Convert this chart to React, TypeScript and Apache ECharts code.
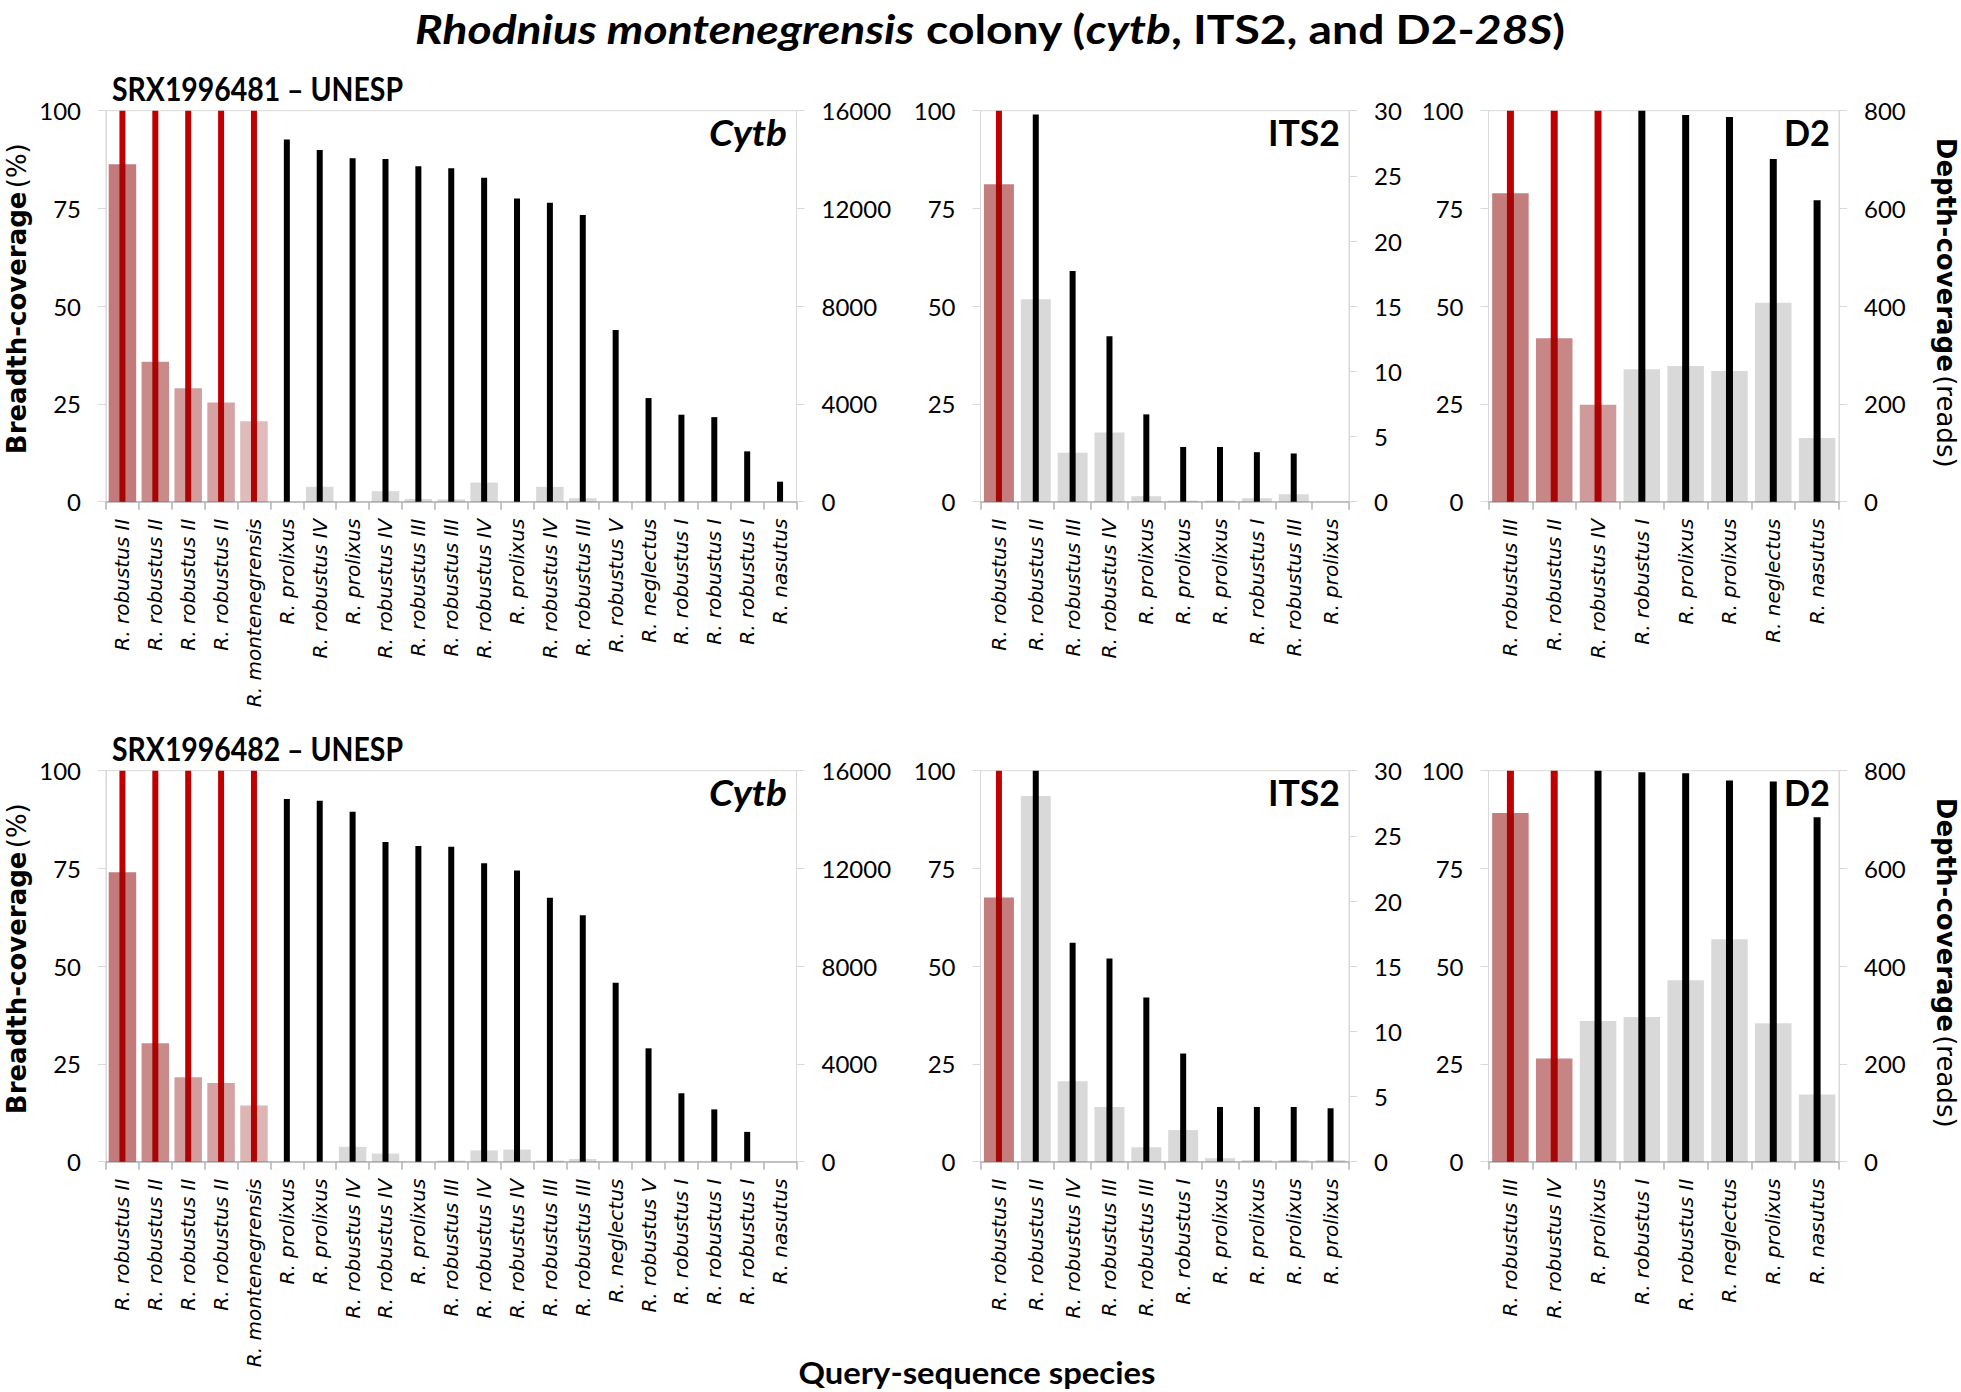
import React, { useEffect, useRef } from "react";
import * as echarts from "echarts";

// ---------------- data ----------------
// Top row: SRX1996481 – UNESP
const catsTopCytb = [
  "R. robustus II", "R. robustus II", "R. robustus II", "R. robustus II", "R. montenegrensis",
  "R. prolixus", "R. robustus IV", "R. prolixus", "R. robustus IV", "R. robustus III",
  "R. robustus III", "R. robustus IV", "R. prolixus", "R. robustus IV", "R. robustus III",
  "R. robustus V", "R. neglectus", "R. robustus I", "R. robustus I", "R. robustus I", "R. nasutus",
];
const breadthTopCytb = [86.3, 35.8, 29.0, 25.4, 20.6, 0, 3.8, 0, 2.7, 0.7, 0.6, 4.9, 0, 3.8, 0.9, 0, 0, 0, 0, 0, 0];
const depthTopCytb = [21000, 20000, 19500, 19000, 18000, 14820, 14390, 14050, 14020, 13730, 13640, 13260, 12410, 12230, 11730, 7030, 4240, 3560, 3460, 2060, 820];

const catsTopITS2 = [
  "R. robustus II", "R. robustus II", "R. robustus III", "R. robustus IV", "R. prolixus",
  "R. prolixus", "R. prolixus", "R. robustus I", "R. robustus III", "R. prolixus",
];
const breadthTopITS2 = [81.2, 51.8, 12.5, 17.7, 1.4, 0.3, 0.3, 0.9, 1.9, 0];
const depthTopITS2 = [40, 29.7, 17.7, 12.7, 6.7, 4.2, 4.2, 3.8, 3.7, 0];

const catsTopD2 = [
  "R. robustus III", "R. robustus II", "R. robustus IV", "R. robustus I",
  "R. prolixus", "R. prolixus", "R. neglectus", "R. nasutus",
];
const breadthTopD2 = [78.9, 41.8, 24.8, 33.9, 34.7, 33.4, 50.9, 16.3];
const depthTopD2 = [1200, 1100, 1000, 800, 791, 787, 701, 617];

// Bottom row: SRX1996482 – UNESP
const catsBotCytb = [
  "R. robustus II", "R. robustus II", "R. robustus II", "R. robustus II", "R. montenegrensis",
  "R. prolixus", "R. prolixus", "R. robustus IV", "R. robustus IV", "R. prolixus",
  "R. robustus III", "R. robustus IV", "R. robustus IV", "R. robustus III", "R. robustus III",
  "R. neglectus", "R. robustus V", "R. robustus I", "R. robustus I", "R. robustus I", "R. nasutus",
];
const breadthBotCytb = [74.0, 30.3, 21.6, 20.1, 14.4, 0, 0, 3.8, 2.1, 0, 0.3, 2.9, 3.1, 0.3, 0.7, 0, 0, 0, 0, 0, 0];
const depthBotCytb = [21000, 20000, 19500, 19000, 18000, 14840, 14770, 14320, 13080, 12920, 12890, 12210, 11920, 10800, 10080, 7320, 4640, 2800, 2140, 1220, 0];

const catsBotITS2 = [
  "R. robustus II", "R. robustus II", "R. robustus IV", "R. robustus III", "R. robustus III",
  "R. robustus I", "R. prolixus", "R. prolixus", "R. prolixus", "R. prolixus",
];
const breadthBotITS2 = [67.6, 93.5, 20.6, 14.0, 3.7, 8.1, 0.9, 0.4, 0.4, 0.4];
const depthBotITS2 = [40, 30, 16.8, 15.6, 12.6, 8.3, 4.2, 4.2, 4.2, 4.1];

const catsBotD2 = [
  "R. robustus III", "R. robustus IV", "R. prolixus", "R. robustus I",
  "R. robustus II", "R. neglectus", "R. prolixus", "R. nasutus",
];
const breadthBotD2 = [89.2, 26.4, 36.0, 37.0, 46.4, 56.9, 35.4, 17.2];
const depthBotD2 = [1200, 1100, 800, 797, 795, 780, 778, 705];

// number of leading (query-matching) categories, drawn in red
const highlightCounts = [5, 1, 3, 5, 1, 2];
const depthMaxes = [16000, 30, 800, 16000, 30, 800];
const depthSteps = [4000, 5, 200, 4000, 5, 200];
const geneLabels = ["Cytb", "ITS2", "D2", "Cytb", "ITS2", "D2"];
const runLabels = ["SRX1996481 – UNESP", "SRX1996482 – UNESP"];

const PANELS = [
  { cats: catsTopCytb, breadth: breadthTopCytb, depth: depthTopCytb },
  { cats: catsTopITS2, breadth: breadthTopITS2, depth: depthTopITS2 },
  { cats: catsTopD2, breadth: breadthTopD2, depth: depthTopD2 },
  { cats: catsBotCytb, breadth: breadthBotCytb, depth: depthBotCytb },
  { cats: catsBotITS2, breadth: breadthBotITS2, depth: depthBotITS2 },
  { cats: catsBotD2, breadth: breadthBotD2, depth: depthBotD2 },
];

// ---------------- layout / style ----------------
const W = 1961;
const H = 1392;
const COLS = [
  { left: 106, width: 690.5, wide: 27.5, thin: 6, labelRight: 787, labelW: 78 },
  { left: 980.5, width: 368.5, wide: 30, thin: 6, labelRight: 1340, labelW: 72 },
  { left: 1488.5, width: 350.5, wide: 36.5, thin: 7, labelRight: 1830, labelW: 46 },
];
const ROWS = [110.7, 770.7];
const PLOT_H = 391;
const PINK_ALPHA = [
  [0.54, 0.48, 0.4, 0.375, 0.28],
  [0.53],
  [0.53, 0.49, 0.41],
  [0.54, 0.48, 0.4, 0.375, 0.3],
  [0.53],
  [0.53, 0.5],
];
const CAL = "Lato";
const VER = "DejaVu Sans";

function fitScale(parts: { t: string; font: string }[], target: number) {
  const c = document.createElement("canvas").getContext("2d");
  if (!c) return 1;
  let w = 0;
  parts.forEach((p) => {
    c.font = p.font;
    w += c.measureText(p.t).width;
  });
  if (!w) return 1;
  return Math.max(0.7, Math.min(1.3, target / w));
}

function buildOption() {
  const grid: any[] = [];
  const xAxis: any[] = [];
  const yAxis: any[] = [];
  const series: any[] = [];
  const graphic: any[] = [];

  PANELS.forEach((p, i) => {
    const col = COLS[i % 3];
    const row = Math.floor(i / 3);
    const top = ROWS[row];
    const hl = highlightCounts[i];
    grid.push({
      left: col.left, top, width: col.width, height: PLOT_H,
      show: true, borderColor: "#d9d9d9", borderWidth: 1, backgroundColor: "transparent",
    });
    xAxis.push({
      type: "category", gridIndex: i, data: p.cats, position: "bottom",
      axisLine: { show: true, lineStyle: { color: "#b3b3b3", width: 1.5 } },
      axisTick: { show: true, length: 8, lineStyle: { color: "#b3b3b3", width: 1.5 } },
      axisLabel: {
        rotate: 90, margin: 17, interval: 0, hideOverlap: false,
        fontFamily: VER, fontStyle: "italic", fontSize: 20, color: "#000",
      },
      splitLine: { show: false },
    });
    xAxis.push({ type: "category", gridIndex: i, data: p.cats, show: false });
    const yCommon = {
      type: "value", gridIndex: i, min: 0,
      axisLine: { show: true, lineStyle: { color: "#d9d9d9" } },
      axisTick: { show: true, length: 8, lineStyle: { color: "#d9d9d9" } },
      splitLine: { show: false },
      axisLabel: {
        margin: 25, fontFamily: CAL, fontSize: 24, color: "#000",
        formatter: (v: number) => String(v),
      },
    };
    yAxis.push({ ...yCommon, position: "left", max: 100, interval: 25 });
    yAxis.push({ ...yCommon, position: "right", max: depthMaxes[i], interval: depthSteps[i] });

    series.push({
      type: "bar", xAxisIndex: 2 * i, yAxisIndex: 2 * i, barWidth: col.wide, z: 3,
      data: p.breadth.map((v, j) => ({
        value: v,
        itemStyle: { color: j < hl ? `rgba(143,10,10,${PINK_ALPHA[i][j]})` : "rgba(0,0,0,0.15)" },
      })),
    });
    series.push({
      type: "bar", xAxisIndex: 2 * i + 1, yAxisIndex: 2 * i + 1, barWidth: col.thin, z: 2, clip: true,
      data: p.depth.map((v, j) => ({
        value: v,
        itemStyle: { color: j < hl ? "#c00000" : "#000000" },
      })),
    });

    // gene label in the top-right corner
    const gFont = `${i % 3 === 0 ? "italic " : ""}bold 37px ${CAL}`;
    const gs = fitScale([{ t: geneLabels[i], font: gFont }], col.labelW);
    graphic.push({
      type: "text", x: col.labelRight, y: top + 21, scaleX: gs, z: 100,
      style: {
        text: geneLabels[i], font: gFont, fill: "#000", align: "right", verticalAlign: "middle",
      },
    });
  });

  // run labels
  runLabels.forEach((t, r) => {
    const f = `bold 32px ${CAL}`;
    const s = fitScale([{ t, font: f }], 291);
    graphic.push({
      type: "text", x: 112, y: ROWS[r] - 22, scaleX: s, z: 100,
      style: { text: t, font: f, fill: "#000", align: "left", verticalAlign: "middle" },
    });
  });

  // y-axis titles
  ROWS.forEach((top) => {
    graphic.push({
      type: "text", x: 17, y: top + 188, rotation: Math.PI / 2, z: 100,
      style: {
        text: "{b|Breadth-coverage} {n|(%)}", align: "center", verticalAlign: "middle", fill: "#000",
        rich: {
          b: { fontFamily: VER, fontWeight: "bold", fontSize: 26, fill: "#000" },
          n: { fontFamily: VER, fontWeight: "normal", fontSize: 26, fill: "#000" },
        },
      },
    });
    graphic.push({
      type: "text", x: 1946, y: top + 192, rotation: -Math.PI / 2, z: 100,
      style: {
        text: "{b|Depth-coverage} {n|(reads)}", align: "center", verticalAlign: "middle", fill: "#000",
        rich: {
          b: { fontFamily: VER, fontWeight: "bold", fontSize: 26, fill: "#000" },
          n: { fontFamily: VER, fontWeight: "normal", fontSize: 26, fill: "#000" },
        },
      },
    });
  });

  // x-axis title
  const qf = `bold 30px ${CAL}`;
  const qs = fitScale([{ t: "Query-sequence species", font: qf }], 357);
  graphic.push({
    type: "text", x: 977, y: 1373, scaleX: qs, z: 100,
    style: { text: "Query-sequence species", font: qf, fill: "#000", align: "center", verticalAlign: "middle" },
  });

  // main title
  const TS = 40;
  const it = `italic bold ${TS}px ${CAL}`;
  const bo = `bold ${TS}px ${CAL}`;
  const titleParts = [
    { t: "Rhodnius montenegrensis", font: it, k: "i" },
    { t: " colony (", font: bo, k: "b" },
    { t: "cytb", font: it, k: "i" },
    { t: ", ITS2, and D2-", font: bo, k: "b" },
    { t: "28S", font: it, k: "i" },
    { t: ")", font: bo, k: "b" },
  ];
  const ts = fitScale(titleParts, 1150);
  graphic.push({
    type: "text", x: 990, y: 28, scaleX: ts, z: 100,
    style: {
      text: titleParts.map((p) => `{${p.k}|${p.t}}`).join(""),
      align: "center", verticalAlign: "middle", fill: "#000",
      rich: {
        i: { fontFamily: CAL, fontStyle: "italic", fontWeight: "bold", fontSize: TS, fill: "#000" },
        b: { fontFamily: CAL, fontWeight: "bold", fontSize: TS, fill: "#000" },
      },
    },
  });

  return {
    animation: false,
    backgroundColor: "#ffffff",
    textStyle: { fontFamily: CAL },
    grid, xAxis, yAxis, series, graphic,
  };
}

export default function App() {
  const ref = useRef<HTMLDivElement>(null);
  useEffect(() => {
    if (!ref.current) return;
    const chart = echarts.init(ref.current, undefined, { renderer: "svg", width: W, height: H });
    chart.setOption(buildOption() as any);
    return () => chart.dispose();
  }, []);
  return (
    <div
      ref={ref}
      style={{ position: "fixed", left: 0, top: 0, width: W, height: H, background: "#fff" }}
    />
  );
}
